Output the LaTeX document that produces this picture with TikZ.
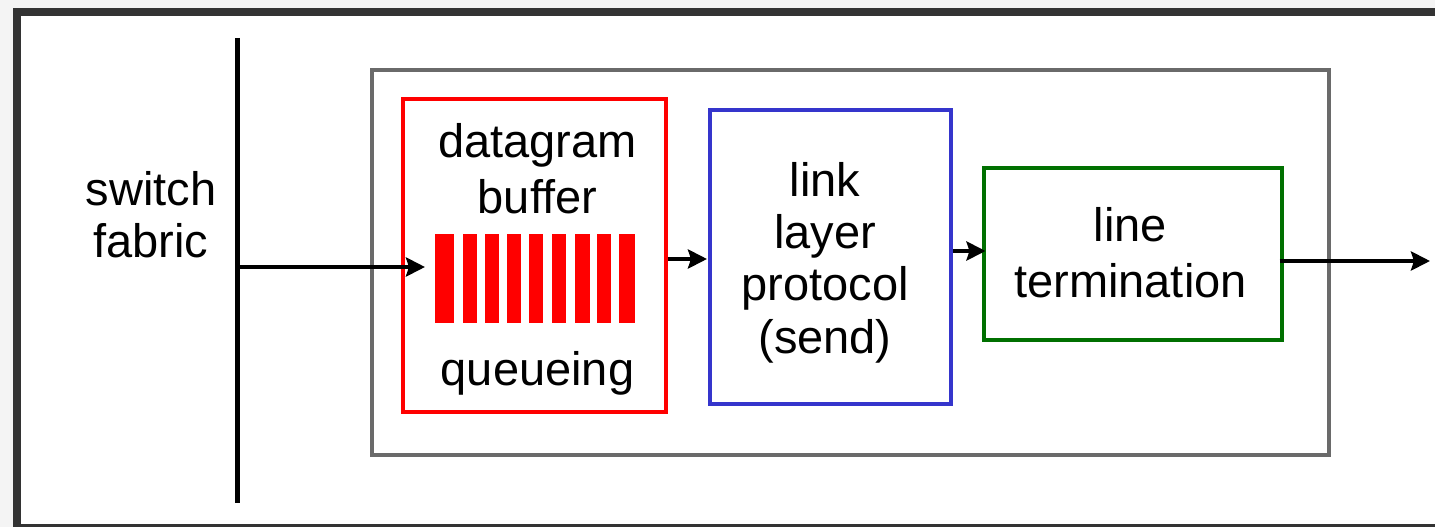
\documentclass[tikz,border=0pt]{standalone}
\usepackage{fontspec}
\setmainfont{Liberation Sans}
\usetikzlibrary{arrows.meta}
\definecolor{framedark}{HTML}{333333}
\definecolor{outerbg}{HTML}{F4F4F4}
\definecolor{portgray}{HTML}{6A6A6A}
\definecolor{bufred}{HTML}{FF0000}
\definecolor{linkblue}{HTML}{3535CC}
\definecolor{termgreen}{HTML}{007000}
\tikzset{
  blockbox/.style={rectangle, draw, line width=4pt, inner sep=0pt, fill=none},
  lbl/.style={font=\fontsize{47}{52}\selectfont, align=center, anchor=base, inner sep=0pt},
  arr/.style={line width=4.8pt, -{Stealth[length=19pt,width=19pt,inset=3pt]}},
  qbar/.style={fill=bufred, draw=none},
}
\begin{document}
\begin{tikzpicture}[x=1pt, y=-1pt]
  % page frame
  \fill[outerbg] (0,0) rectangle (1435,527);
  \fill[framedark] (13,8) rectangle (1435,527);
  \fill[white] (21,16) rectangle (1435,524);
  \useasboundingbox (0,0) rectangle (1435,527);

  % switch fabric (labels are placed by the baseline of their last line)
  \coordinate (fabtop) at (237,38);
  \coordinate (fabbot) at (237,503);
  \draw[line width=5pt] (fabtop) -- (fabbot);
  \node[lbl] (fablbl) at (151,257) {switch\\fabric};

  % output port enclosure
  \node[blockbox, draw=portgray, minimum width=956.5pt, minimum height=385pt] (port) at (850.25,262.5) {};

  % datagram buffer with queue
  \node[blockbox, draw=bufred, minimum width=262.5pt, minimum height=313pt] (buf) at (534.25,255.5) {};
  \node[lbl, font=\fontsize{47}{56}\selectfont] (buflbl) at (537.5,213) {datagram\\buffer};
  \node[lbl] (qlbl) at (537.5,385) {queueing};
  \foreach \a/\b in {435/454, 463/477, 485/499, 507/521, 529/543, 552/566, 575/590, 597/611, 619/635}
    \fill[qbar] (\a,234) rectangle (\b,323);

  % link layer protocol
  \node[blockbox, draw=linkblue, minimum width=241pt, minimum height=294pt] (link) at (830.5,257) {};
  \node[lbl, font=\fontsize{47}{52.3}\selectfont] (linklbl) at (825,353) {link\\layer\\protocol\\(send)};

  % line termination
  \node[blockbox, draw=termgreen, minimum width=298pt, minimum height=172pt] (term) at (1132.5,254) {};
  \node[lbl, font=\fontsize{47}{56}\selectfont] (termlbl) at (1130.5,297.5) {line\\termination};

  % data path
  \coordinate (fabin) at (237,267);
  \coordinate (out) at (1430,261);
  \draw[arr] (fabin) -- ([xshift=24pt]buf.west |- fabin);
  \draw[arr] (buf.east |- 0,259) -- ([xshift=-1pt]link.west |- 0,259);
  \draw[arr] (link.east |- 0,251) -- ([xshift=4pt]term.west |- 0,251);
  \draw[arr] ([xshift=-4pt]term.east |- out) -- (out);
\end{tikzpicture}
\end{document}
